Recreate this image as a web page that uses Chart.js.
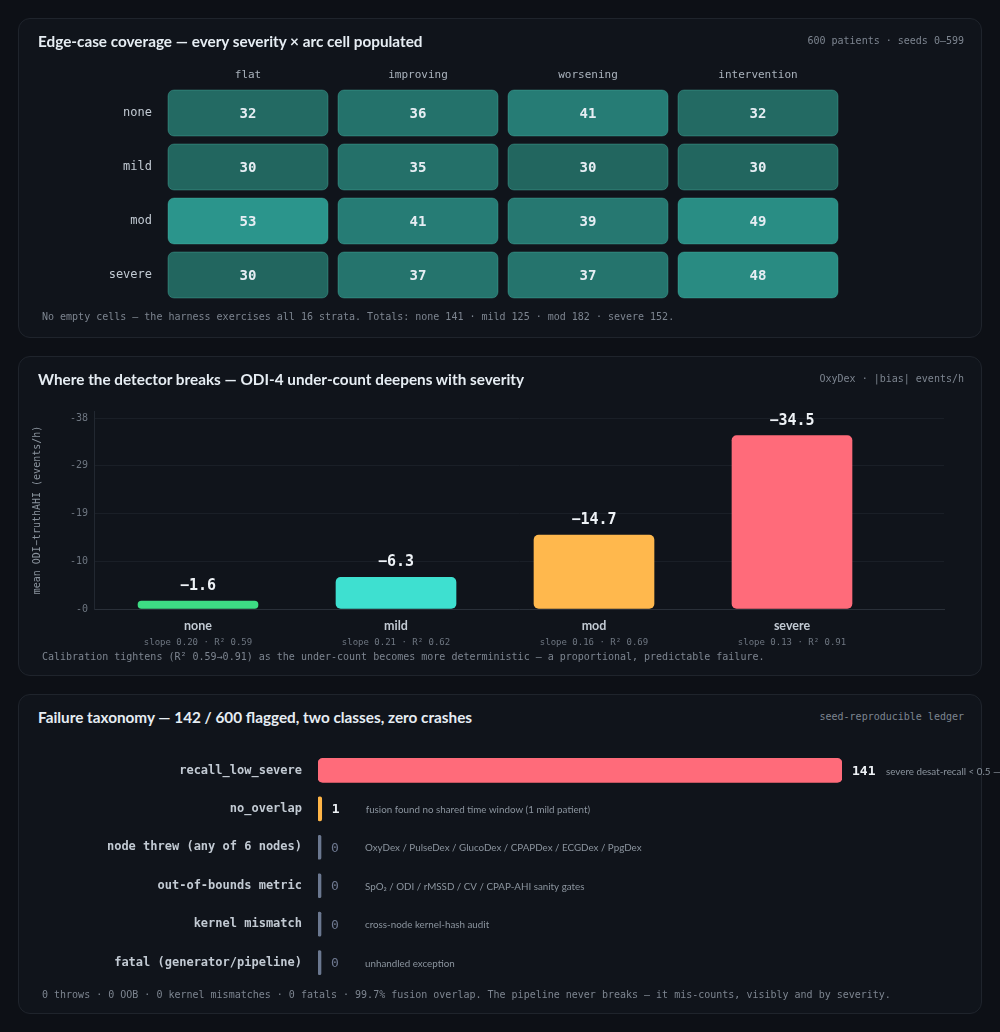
<!DOCTYPE html>
<html>
<head>
<meta charset="utf-8">
<script src="https://cdn.jsdelivr.net/npm/chart.js@4.4.0/dist/chart.umd.min.js"></script>
<style>
  body { margin: 0; background: #0d1016; width: 1000px; height: 1032px; overflow: hidden; }
  .card { position: absolute; left: 18px; width: 964px; height: 320px; box-sizing: border-box;
          background: #10141b; border: 1px solid #1f242c; border-radius: 12px; }
  .title { position: absolute; left: 19px; top: 13px; line-height: 20px; white-space: nowrap;
           font: 700 15.3px Lato, "Noto Sans", sans-serif; color: #e6edf3; z-index: 2; }
  .note { position: absolute; right: 17px; top: 16px; line-height: 14px; white-space: nowrap;
          font: 10px "DejaVu Sans Mono", monospace; color: #7d8590; z-index: 2; }
  .foot { position: absolute; left: 23px; top: 292px; line-height: 14px; white-space: nowrap;
          font: 10px "DejaVu Sans Mono", monospace; color: #7d8590; z-index: 2; }
  canvas { position: absolute; left: -1px; top: -1px; }
</style>
</head>
<body>

<div class="card" style="top:18px">
  <div class="title">Edge-case coverage — every severity × arc cell populated</div>
  <div class="note">600 patients · seeds 0–599</div>
  <canvas id="cov" width="964" height="320"></canvas>
  <div class="foot">No empty cells — the harness exercises all 16 strata. Totals: none 141 · mild 125 · mod 182 · severe 152.</div>
</div>

<div class="card" style="top:356px">
  <div class="title">Where the detector breaks — ODI-4 under-count deepens with severity</div>
  <div class="note">OxyDex · |bias| events/h</div>
  <canvas id="bias" width="964" height="320"></canvas>
  <div class="foot" style="top:294px">Calibration tightens (R² 0.59→0.91) as the under-count becomes more deterministic — a proportional, predictable failure.</div>
</div>

<div class="card" style="top:694px">
  <div class="title">Failure taxonomy — 142 / 600 flagged, two classes, zero crashes</div>
  <div class="note">seed-reproducible ledger</div>
  <canvas id="fail" width="982" height="277" style="top:33px"></canvas>
  <div class="foot" style="top:294px">0 throws · 0 OOB · 0 kernel mismatches · 0 fatals · 99.7% fusion overlap. The pipeline never breaks — it mis-counts, visibly and by severity.</div>
</div>

<script>
// coverage grid: severity x arc
var severities = ['none', 'mild', 'mod', 'severe'];
var arcs = ['flat', 'improving', 'worsening', 'intervention'];
var cellCounts = [
  [32, 36, 41, 32],
  [30, 35, 30, 30],
  [53, 41, 39, 49],
  [30, 37, 37, 48]
];

// ODI-4 bias by severity
var biasLabels = ['none', 'mild', 'mod', 'severe'];
var biasValues = [-1.6, -6.3, -14.7, -34.5];
var biasSlopes = [0.20, 0.21, 0.16, 0.13];
var biasR2 = [0.59, 0.62, 0.69, 0.91];
var biasTicks = [0, -9.5, -19, -28.5, -38];

// failure ledger
var failLabels = ['recall_low_severe', 'no_overlap', 'node threw (any of 6 nodes)', 'out-of-bounds metric', 'kernel mismatch', 'fatal (generator/pipeline)'];
var failCounts = [141, 1, 0, 0, 0, 0];
var failNotes = [
  'severe desat-recall < 0.5 — ODI-4 misses most severe desaturations',
  'fusion found no shared time window (1 mild patient)',
  'OxyDex / PulseDex / GlucoDex / CPAPDex / ECGDex / PpgDex',
  'SpO₂ / ODI / rMSSD / CV / CPAP-AHI sanity gates',
  'cross-node kernel-hash audit',
  'unhandled exception'
];

var MONO = '"DejaVu Sans Mono", monospace';
var SANS = 'Lato, "Noto Sans", sans-serif';
var biasColors = ['#3ddc84', '#3ee0d0', '#ffb84d', '#ff6b7a'];
var failColors = ['#ff6b7a', '#ffb547', '#6b7890', '#6b7890', '#6b7890', '#6b7890'];

function rrect(ctx, x, y, w, h, r) {
  r = Math.min(r, w / 2, h / 2);
  ctx.beginPath();
  ctx.moveTo(x + r, y);
  ctx.arcTo(x + w, y, x + w, y + h, r);
  ctx.arcTo(x + w, y + h, x, y + h, r);
  ctx.arcTo(x, y + h, x, y, r);
  ctx.arcTo(x, y, x + w, y, r);
  ctx.closePath();
}

// ---------- chart 1 : coverage cells ----------
var cellPts = [];
severities.forEach(function (s, r) {
  arcs.forEach(function (a, c) { cellPts.push({ x: a, y: s, v: cellCounts[r][c] }); });
});
var flat = [].concat.apply([], cellCounts);
var lo = Math.min.apply(null, flat), hi = Math.max.apply(null, flat);
function cellColor(v) {
  var t = (v - lo) / (hi - lo);
  return 'rgb(' + Math.round(34 + 9 * t) + ',' + Math.round(102 + 47 * t) + ',' + Math.round(95 + 45 * t) + ')';
}

var cellPlugin = {
  id: 'cells',
  afterDatasetsDraw: function (chart) {
    var ctx = chart.ctx;
    var xs = chart.scales.x, ys = chart.scales.y;
    var w = xs.getPixelForValue(1) - xs.getPixelForValue(0) - 10;
    var h = ys.getPixelForValue(1) - ys.getPixelForValue(0) - 8;
    chart.getDatasetMeta(0).data.forEach(function (el, i) {
      var v = cellPts[i].v;
      ctx.save();
      rrect(ctx, el.x - w / 2, el.y - h / 2, w, h, 6);
      ctx.fillStyle = cellColor(v);
      ctx.fill();
      ctx.strokeStyle = 'rgba(80,190,175,0.35)';
      ctx.lineWidth = 1;
      ctx.stroke();
      ctx.fillStyle = '#e6edf3';
      ctx.font = 'bold 14px ' + MONO;
      ctx.textAlign = 'center';
      ctx.textBaseline = 'middle';
      ctx.fillText(String(v), el.x, el.y + 1);
      ctx.restore();
    });
  }
};

new Chart(document.getElementById('cov'), {
  type: 'scatter',
  data: { datasets: [{ data: cellPts, pointRadius: 0, pointHoverRadius: 0 }] },
  options: {
    responsive: false, animation: false, events: [],
    layout: { padding: { left: 0, top: 0, right: 139, bottom: 36 } },
    plugins: { legend: { display: false }, tooltip: { enabled: false } },
    scales: {
      x: {
        type: 'category', labels: arcs, position: 'top', offset: true,
        grid: { display: false, drawTicks: false }, border: { display: false },
        ticks: { padding: 4, color: '#aab3bd', font: { family: MONO, size: 11 } },
        afterFit: function (s) { s.height = 68; }
      },
      y: {
        type: 'category', labels: severities, offset: true,
        grid: { display: false, drawTicks: false }, border: { display: false },
        ticks: { padding: 11, color: '#c2cad3', font: { family: MONO, size: 12 } },
        afterFit: function (s) { s.width = 145; }
      }
    }
  },
  plugins: [cellPlugin]
});

// ---------- chart 2 : bias bars ----------
var biasPlugin = {
  id: 'biasLabels',
  afterDatasetsDraw: function (chart) {
    var ctx = chart.ctx;
    var bottom = chart.chartArea.bottom;
    chart.getDatasetMeta(0).data.forEach(function (el, i) {
      ctx.save();
      ctx.textAlign = 'center';
      ctx.textBaseline = 'middle';
      ctx.fillStyle = '#eef2f6';
      ctx.font = 'bold 15px ' + MONO;
      ctx.fillText('−' + Math.abs(biasValues[i]).toFixed(1), el.x, el.y - 15);
      ctx.fillStyle = '#6e7681';
      ctx.font = '9px ' + MONO;
      ctx.fillText('slope ' + biasSlopes[i].toFixed(2) + ' · R² ' + biasR2[i].toFixed(2), el.x, bottom + 34);
      ctx.restore();
    });
  }
};

new Chart(document.getElementById('bias'), {
  type: 'bar',
  data: {
    datasets: [{
      data: biasValues.map(function (v, i) { return { x: i, y: v }; }),
      backgroundColor: biasColors,
      borderRadius: 5,
      borderSkipped: false,
      barThickness: 120
    }]
  },
  options: {
    responsive: false, animation: false, events: [],
    layout: { padding: { left: 0, top: 55, right: 38, bottom: 0 } },
    plugins: { legend: { display: false }, tooltip: { enabled: false } },
    scales: {
      x: {
        type: 'linear', min: -0.5253, max: 3.7677, offset: false,
        grid: { display: false, drawTicks: false, offset: false }, border: { color: '#2a3039' },
        afterBuildTicks: function (s) { s.ticks = biasLabels.map(function (_, i) { return { value: i }; }); },
        ticks: {
          autoSkip: false, maxRotation: 0, padding: 9, color: '#c2cad3',
          font: { family: SANS, size: 12.5, weight: 'bold' },
          callback: function (v) { return biasLabels[v]; }
        },
        afterFit: function (s) { s.height = 67; }
      },
      y: {
        reverse: true, min: -39.4, max: 0,
        afterBuildTicks: function (s) { s.ticks = biasTicks.map(function (v) { return { value: v }; }); },
        grid: { color: '#1a1f27', drawTicks: false },
        border: { color: '#222831' },
        ticks: {
          padding: 6, color: '#6e7681', font: { family: MONO, size: 10 },
          callback: function (v) { return '-' + Math.round(Math.abs(v)); }
        },
        title: {
          display: true, text: 'mean ODI−truthAHI (events/h)', color: '#8b949e',
          font: { family: MONO, size: 10 }, padding: { top: 13, bottom: 0 }
        },
        afterFit: function (s) { s.width = 76; }
      }
    }
  },
  plugins: [biasPlugin]
});

// ---------- chart 3 : failure ledger ----------
var failPlugin = {
  id: 'failLabels',
  afterDatasetsDraw: function (chart) {
    var ctx = chart.ctx;
    chart.getDatasetMeta(0).data.forEach(function (el, i) {
      var n = failCounts[i];
      ctx.save();
      ctx.textAlign = 'left';
      ctx.textBaseline = 'middle';
      ctx.fillStyle = n > 0 ? '#eef2f6' : '#6e7890';
      ctx.font = (n > 0 ? 'bold ' : '') + '13px ' + MONO;
      ctx.fillText(String(n), el.x + 10, el.y + 1);
      ctx.fillStyle = '#8b949e';
      ctx.font = '9.8px ' + SANS;
      ctx.fillText(failNotes[i], el.x + 44, el.y + 1);
      ctx.restore();
    });
  }
};

new Chart(document.getElementById('fail'), {
  type: 'bar',
  data: {
    labels: failLabels,
    datasets: [{
      data: failCounts,
      backgroundColor: failColors,
      borderRadius: 5,
      borderSkipped: false,
      barThickness: 24,
      minBarLength: 3
    }]
  },
  options: {
    indexAxis: 'y',
    responsive: false, animation: false, events: [],
    layout: { padding: { left: 0, top: 0, right: 158, bottom: 0 } },
    plugins: { legend: { display: false }, tooltip: { enabled: false } },
    scales: {
      x: { display: false, min: 0, max: 141 },
      y: {
        grid: { display: false, drawTicks: false }, border: { display: false },
        ticks: { padding: 16, color: '#c2cad3', font: { family: MONO, size: 12, weight: 'bold' } },
        afterFit: function (s) { s.width = 300; }
      }
    }
  },
  plugins: [failPlugin]
});
</script>
</body>
</html>
